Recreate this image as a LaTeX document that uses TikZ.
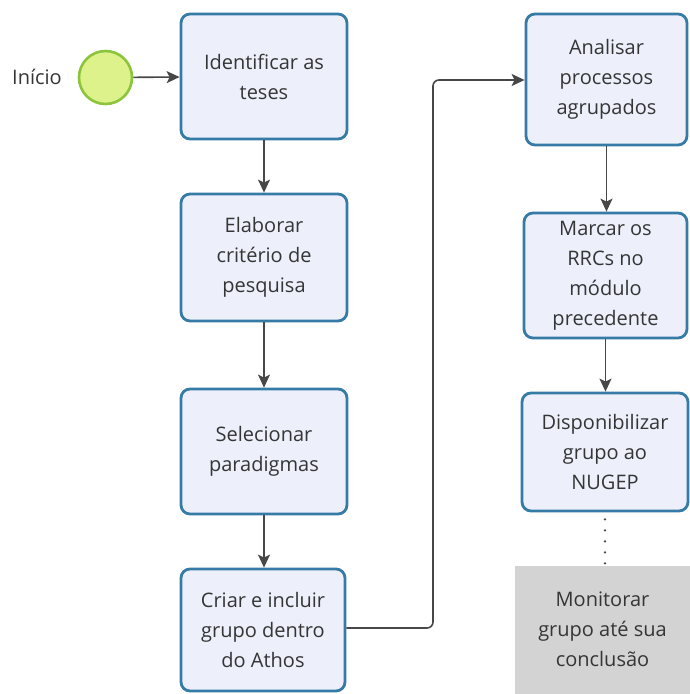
\documentclass[tikz,border=0pt]{standalone}
\usepackage{fontspec}
\setmainfont{Open Sans}
\usetikzlibrary{arrows.meta}
\definecolor{boxfill}{HTML}{EDF0FB}
\definecolor{boxline}{HTML}{357BA6}
\definecolor{txt}{HTML}{353535}
\definecolor{startfill}{HTML}{DDF28A}
\definecolor{startline}{HTML}{8CC43E}
\definecolor{grayfill}{HTML}{D3D3D3}
\definecolor{conn}{HTML}{474747}
\tikzset{
  boxfont/.style={font=\fontsize{20}{30}\selectfont},
  taskbox/.style={draw=boxline, fill=boxfill, line width=2.8pt, rounded corners=9pt,
    align=center, text=txt, inner sep=0pt, boxfont},
  graybox/.style={fill=grayfill, inner sep=0pt},
  flow/.style={draw=conn, line width=1.6pt, -{Stealth[length=13pt,width=12pt,inset=3pt]}},
}
\begin{document}
\begin{tikzpicture}[x=1pt,y=-1pt]
\useasboundingbox (0,0) rectangle (690,694);
\begin{scope}
\clip (0,0) rectangle (690,694);
% start
\node[circle, draw=startline, fill=startfill, line width=2.6pt, minimum size=53pt, inner sep=0pt] (start) at (105.5,77.5) {};
\node[text=txt, boxfont] (lbl) at (37,77) {Início};
% left column
\node[taskbox, minimum width=166pt, minimum height=125pt] (b1) at (264,76.5) {Identificar as\\teses};
\node[taskbox, minimum width=166pt, minimum height=127pt] (b2) at (264,257.5) {Elaborar\\critério de\\pesquisa};
\node[taskbox, minimum width=166pt, minimum height=125pt] (b3) at (264,451.5) {Selecionar\\paradigmas};
\node[taskbox, minimum width=164pt, minimum height=122pt] (b4) at (263,630) {Criar e incluir\\grupo dentro\\do Athos};
% right column
\node[taskbox, minimum width=161pt, minimum height=131pt] (a1) at (606.5,79.5) {Analisar\\processos\\agrupados};
\node[taskbox, minimum width=163pt, minimum height=125pt] (a2) at (605.5,275.5) {Marcar os\\RRCs no\\módulo\\precedente};
\node[taskbox, minimum width=166pt, minimum height=118pt] (a3) at (605,452) {Disponibilizar\\grupo ao\\NUGEP};
\node[graybox, minimum width=175pt, minimum height=130pt, anchor=north west] (g) at (515,566) {};
\node[text=txt, align=center, boxfont] (gt) at (602.5,629) {Monitorar\\grupo até sua\\conclusão};
% connectors
\draw[flow] (start) -- (b1);
\draw[flow] (b1) -- (b2);
\draw[flow] (b2) -- (b3);
\draw[flow] (b3.south) -- (b3.south |- b4.north);
\coordinate (c1) at (433,628);
\coordinate (c2) at (433,80);
\draw[flow, rounded corners=6pt] (b4.east |- c1) -- (c1) -- (c2) -- (a1.west |- c2);
\draw[flow] (a1.south) -- (a1.south |- a2.north);
\draw[flow] (a2.south) -- (a2.south |- a3.north);
\draw[draw=conn, line width=2.6pt, line cap=round, dash pattern=on 0pt off 11pt] (a3.south) ++(0,7) -- (g.north -| a3.south);
\end{scope}
\end{tikzpicture}
\end{document}
